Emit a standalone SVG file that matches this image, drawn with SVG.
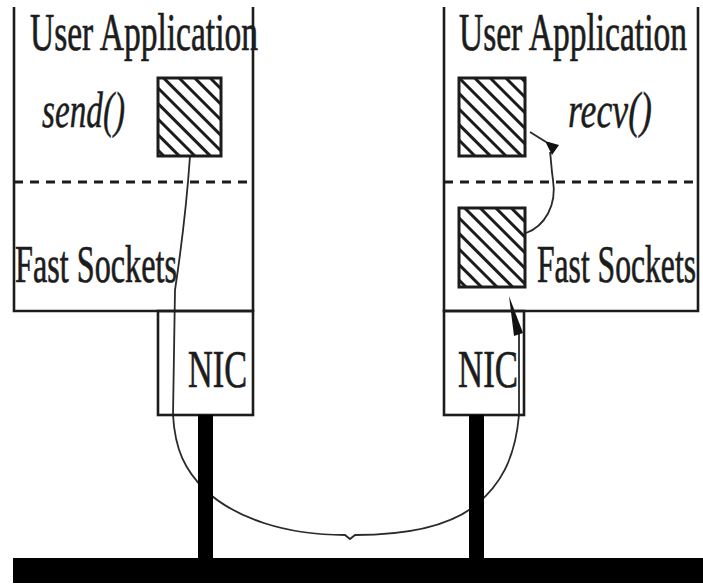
<svg xmlns="http://www.w3.org/2000/svg" width="703" height="585" viewBox="0 0 703 585">
<defs>
<style>
.ln{fill:none;stroke:#1c1c1c;stroke-width:2.6}
.dash{fill:none;stroke:#1c1c1c;stroke-width:3;stroke-dasharray:9 7}
.wire{fill:none;stroke:#2a2a2a;stroke-width:1.8}
.t{font-family:"Liberation Serif","Times New Roman",serif;fill:#1c1c1c;stroke:#1c1c1c;stroke-width:0.7;font-size:52px}
.ti{font-family:"Liberation Serif","Times New Roman",serif;fill:#1c1c1c;stroke:#1c1c1c;stroke-width:0.5;font-size:50px;font-style:italic}
.buf{fill:url(#hatch);stroke:#1c1c1c;stroke-width:3}
</style>
<pattern id="hatch" patternUnits="userSpaceOnUse" width="11" height="11" patternTransform="rotate(45)">
<rect width="11" height="11" fill="#fff"/>
<line x1="0" y1="5.5" x2="11" y2="5.5" stroke="#1c1c1c" stroke-width="3"/>
</pattern>
</defs>
<rect width="703" height="585" fill="#fff"/>

<g id="connectors">
<path class="wire" d="M190,156 C187,200 181,250 175,290 L173,415 C175,450 185,470 205,490 C235,518 285,535 345,535 L350,539 L355,535 C410,535 450,526 476,505 C500,485 515,460 519,415 L519,330"/>
<polygon points="509,296 523,333 514,336" fill="#111"/>
<path class="wire" d="M526,233 C545,226 557,205 553,180 C551,166 551,158 550,152"/>
<polygon points="545,141 559,145 552,155" fill="#111"/>
<line class="wire" x1="530" y1="132" x2="546" y2="142"/>
</g>

<g id="left-host">
<path class="ln" d="M14,7 V311 H253 V7"/>
<line class="dash" x1="14" y1="182" x2="253" y2="182"/>
<text class="t" x="30" y="50" textLength="228" lengthAdjust="spacingAndGlyphs">User Application</text>
<text class="ti" x="42" y="127" textLength="83" lengthAdjust="spacingAndGlyphs">send()</text>
<text class="t" x="15" y="282" textLength="162" lengthAdjust="spacingAndGlyphs">Fast Sockets</text>
</g>
<g id="left-send-buffer">
<rect class="buf" x="158" y="78" width="63" height="78"/>
</g>
<g id="left-nic">
<rect class="ln" x="158" y="311" width="95" height="104"/>
<text class="t" x="188" y="387" textLength="59" lengthAdjust="spacingAndGlyphs">NIC</text>
</g>

<g id="right-host">
<path class="ln" d="M444,7 V311 H698 V7"/>
<line class="dash" x1="444" y1="182" x2="698" y2="182"/>
<text class="t" x="459" y="50" textLength="228" lengthAdjust="spacingAndGlyphs">User Application</text>
<text class="ti" x="568" y="127" textLength="84" lengthAdjust="spacingAndGlyphs">recv()</text>
<text class="t" x="537" y="282" textLength="159" lengthAdjust="spacingAndGlyphs">Fast Sockets</text>
</g>
<g id="right-recv-buffer">
<rect class="buf" x="459" y="78" width="66" height="78"/>
</g>
<g id="right-socket-buffer">
<rect class="buf" x="459" y="208" width="66" height="79"/>
</g>
<g id="right-nic">
<rect class="ln" x="444" y="311" width="80" height="104"/>
<text class="t" x="458" y="387" textLength="60" lengthAdjust="spacingAndGlyphs">NIC</text>
</g>

<g id="network">
<rect x="198" y="415" width="15" height="145" fill="#000"/>
<rect x="469" y="415" width="15" height="145" fill="#000"/>
<rect x="13" y="558" width="690" height="25" fill="#000"/>
</g>
</svg>
